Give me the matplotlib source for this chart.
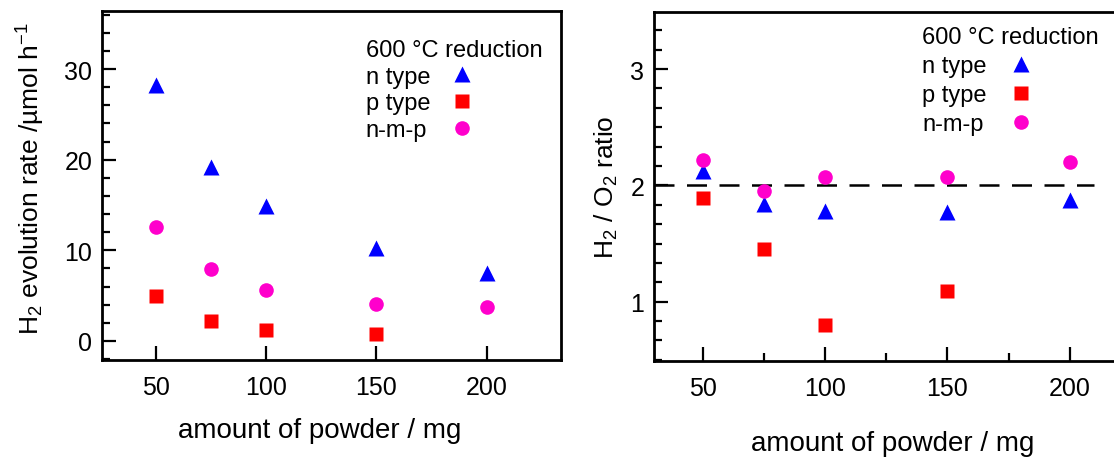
import matplotlib
matplotlib.use("Agg")
import matplotlib.pyplot as plt
from matplotlib.ticker import MultipleLocator
from matplotlib.lines import Line2D

plt.rcParams['font.family'] = ['Liberation Sans', 'DejaVu Sans']
plt.rcParams['mathtext.fontset'] = 'custom'
plt.rcParams['mathtext.rm'] = 'Liberation Sans'
plt.rcParams['mathtext.it'] = 'Liberation Sans:italic'

# data
amount = [50, 75, 100, 150, 200]
amount_p = [50, 75, 100, 150]

h2_n = [28.2, 19.2, 14.9, 10.3, 7.5]
h2_p = [5.0, 2.2, 1.2, 0.8]
h2_nmp = [12.6, 7.9, 5.6, 4.1, 3.7]

ratio_n = [2.12, 1.84, 1.78, 1.77, 1.87]
ratio_p = [1.89, 1.45, 0.80, 1.09]
ratio_nmp = [2.22, 1.95, 2.07, 2.07, 2.20]

labels = ['n type', 'p type', 'n-m-p']
colors = ['#0000ff', '#ff0000', '#ff00cc']
markers = ['^', 's', 'o']
sizes = [12, 10, 10.5]

TICK_FS = 18
LABEL_FS = 20
YLABEL_FS = 19
LEG_FS = 17

fig = plt.figure(figsize=(11.14, 4.6), dpi=100)
ax1 = fig.add_axes([102/1114, 1-361/460, 459/1114, 349/460])
ax2 = fig.add_axes([654/1114, 1-362/460, 489/1114, 349/460])


def style(ax):
    for s in ax.spines.values():
        s.set_linewidth(2)
    ax.tick_params(which='both', direction='in', width=1.6, labelsize=TICK_FS,
                   top=False, right=False)
    ax.tick_params(axis='x', which='both', pad=11)
    ax.tick_params(axis='y', which='both', pad=7)
    ax.tick_params(which='major', length=10)
    ax.tick_params(which='minor', length=5.5)


# left panel
for y, x, c, m, ms in zip([h2_n, h2_p, h2_nmp], [amount, amount_p, amount],
                          colors, markers, sizes):
    ax1.plot(x, y, linestyle='none', marker=m, color=c, ms=ms, mec='none')
ax1.set_xlim(25.7, 233.7)
ax1.set_ylim(-2.1, 36.4)
ax1.set_xticks([50, 100, 150, 200])
ax1.yaxis.set_major_locator(MultipleLocator(10))
ax1.yaxis.set_minor_locator(MultipleLocator(2))
style(ax1)
ax1.set_xlabel('amount of powder / mg', fontsize=LABEL_FS)
ax1.set_ylabel('H$_2$ evolution rate /µmol h$^{-1}$', fontsize=YLABEL_FS)
ax1.xaxis.set_label_coords((320-102)/459, (361-418)/349)
ax1.yaxis.set_label_coords((47-102)/459, (361-179)/349)

# right panel
for y, x, c, m, ms in zip([ratio_n, ratio_p, ratio_nmp], [amount, amount_p, amount],
                          colors, markers, sizes):
    ax2.plot(x, y, linestyle='none', marker=m, color=c, ms=ms, mec='none')
ax2.axhline(2, xmax=0.9, color='black', lw=1.8, linestyle=(0, (8, 5)), zorder=1)
ax2.set_xlim(30, 230)
ax2.set_ylim(0.49, 3.49)
ax2.set_xticks([50, 100, 150, 200])
ax2.xaxis.set_minor_locator(MultipleLocator(25))
ax2.yaxis.set_major_locator(MultipleLocator(1))
ax2.yaxis.set_minor_locator(MultipleLocator(1/6))
style(ax2)
ax2.set_xlabel('amount of powder / mg', fontsize=LABEL_FS)
ax2.set_ylabel('H$_2$ / O$_2$ ratio', fontsize=YLABEL_FS)
ax2.xaxis.set_label_coords((893-654)/489, (362-431)/349)
ax2.yaxis.set_label_coords((620-654)/489, 0.5)

handles = [Line2D([], [], linestyle='none', marker=m, color=c, ms=ms, mec='none')
           for m, c, ms in zip(markers, colors, sizes)]

legs = []
for ax, anchor, sp, tp in [(ax1, (0.575, 0.92), 0.2, 0.85),
                           (ax2, (0.548, 0.96), 0.3, 0.95)]:
    leg = ax.legend(handles, labels, title='600 °C reduction', loc='upper left',
                    bbox_to_anchor=anchor, frameon=False, markerfirst=False,
                    fontsize=LEG_FS, title_fontsize=LEG_FS, alignment='left',
                    borderpad=0, borderaxespad=0, handlelength=1.0,
                    handletextpad=tp, labelspacing=sp)
    legs.append(leg)

# keep legend labels left aligned with the markers in one column
fig.canvas.draw()
renderer = fig.canvas.get_renderer()
for leg in legs:
    widths = [t.get_window_extent(renderer).width for t in leg.get_texts()]
    wmax = max(widths)
    for col in leg._legend_handle_box.get_children():
        for row, w in zip(col.get_children(), widths):
            row.sep = row.sep + (wmax - w) * 72 / fig.dpi

fig.savefig('out.png', dpi=100)
